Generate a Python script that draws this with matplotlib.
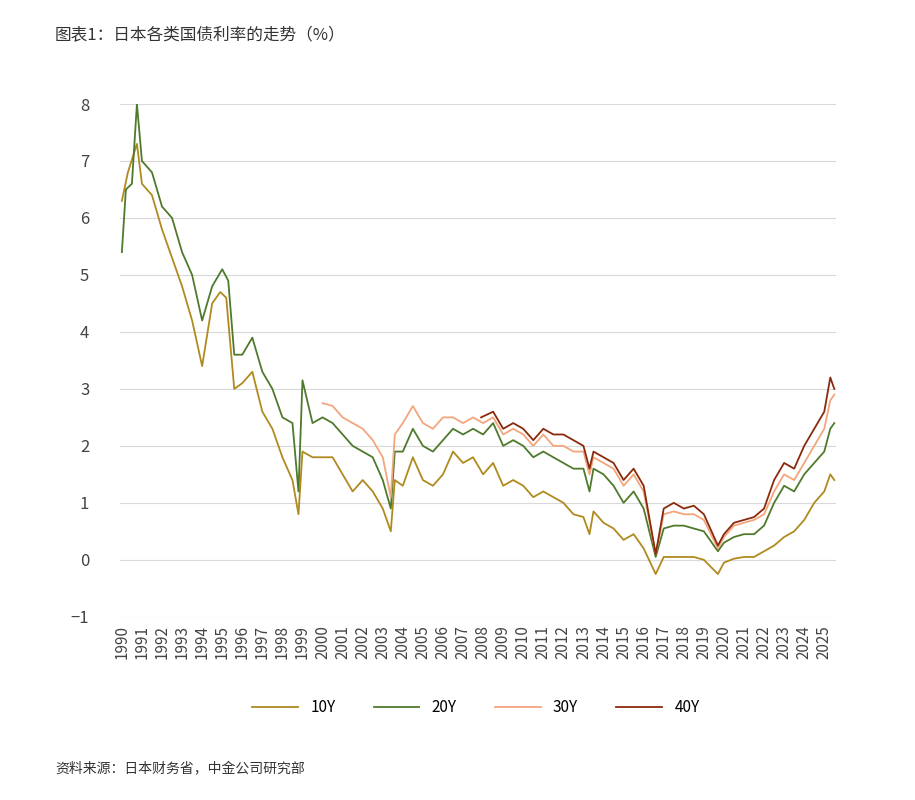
import numpy as np
import matplotlib.pyplot as plt

plt.rcParams['font.family'] = ['Noto Sans CJK SC', 'DejaVu Sans']

# 各期限收益率（%），按年份读取的近似值
t10 = [1990.0, 1990.3, 1990.75, 1991.0, 1991.5, 1992.0, 1992.5, 1993.0, 1993.5, 1994.0, 1994.5, 1994.9,
       1995.2, 1995.6, 1996.0, 1996.5, 1997.0, 1997.5, 1998.0, 1998.5, 1998.8, 1999.0, 1999.5, 2000.0,
       2000.5, 2001.0, 2001.5, 2002.0, 2002.5, 2003.0, 2003.4, 2003.6, 2004.0, 2004.5, 2005.0, 2005.5,
       2006.0, 2006.5, 2007.0, 2007.5, 2008.0, 2008.5, 2009.0, 2009.5, 2010.0, 2010.5, 2011.0, 2011.5,
       2012.0, 2012.5, 2013.0, 2013.3, 2013.5, 2014.0, 2014.5, 2015.0, 2015.5, 2016.0, 2016.6, 2017.0,
       2017.5, 2018.0, 2018.5, 2019.0, 2019.7, 2020.0, 2020.5, 2021.0, 2021.5, 2022.0, 2022.5, 2023.0,
       2023.5, 2024.0, 2024.5, 2025.0, 2025.3, 2025.5]
y10 = [6.3, 6.8, 7.3, 6.6, 6.4, 5.8, 5.3, 4.8, 4.2, 3.4, 4.5, 4.7,
       4.6, 3.0, 3.1, 3.3, 2.6, 2.3, 1.8, 1.4, 0.8, 1.9, 1.8, 1.8,
       1.8, 1.5, 1.2, 1.4, 1.2, 0.9, 0.5, 1.4, 1.3, 1.8, 1.4, 1.3,
       1.5, 1.9, 1.7, 1.8, 1.5, 1.7, 1.3, 1.4, 1.3, 1.1, 1.2, 1.1,
       1.0, 0.8, 0.75, 0.45, 0.85, 0.65, 0.55, 0.35, 0.45, 0.2, -0.25, 0.05,
       0.05, 0.05, 0.05, 0.0, -0.25, -0.05, 0.02, 0.05, 0.05, 0.15, 0.25, 0.4,
       0.5, 0.7, 1.0, 1.2, 1.5, 1.4]

t20 = [1990.0, 1990.2, 1990.5, 1990.75, 1991.0, 1991.5, 1992.0, 1992.5, 1993.0, 1993.5, 1994.0, 1994.5,
       1995.0, 1995.3, 1995.6, 1996.0, 1996.5, 1997.0, 1997.5, 1998.0, 1998.5, 1998.8, 1999.0, 1999.5,
       2000.0, 2000.5, 2001.0, 2001.5, 2002.0, 2002.5, 2003.0, 2003.4, 2003.6, 2004.0, 2004.5, 2005.0,
       2005.5, 2006.0, 2006.5, 2007.0, 2007.5, 2008.0, 2008.5, 2009.0, 2009.5, 2010.0, 2010.5, 2011.0,
       2011.5, 2012.0, 2012.5, 2013.0, 2013.3, 2013.5, 2014.0, 2014.5, 2015.0, 2015.5, 2016.0, 2016.6,
       2017.0, 2017.5, 2018.0, 2018.5, 2019.0, 2019.7, 2020.0, 2020.5, 2021.0, 2021.5, 2022.0, 2022.5,
       2023.0, 2023.5, 2024.0, 2024.5, 2025.0, 2025.3, 2025.5]
y20 = [5.4, 6.5, 6.6, 8.0, 7.0, 6.8, 6.2, 6.0, 5.4, 5.0, 4.2, 4.8,
       5.1, 4.9, 3.6, 3.6, 3.9, 3.3, 3.0, 2.5, 2.4, 1.2, 3.15, 2.4,
       2.5, 2.4, 2.2, 2.0, 1.9, 1.8, 1.4, 0.9, 1.9, 1.9, 2.3, 2.0,
       1.9, 2.1, 2.3, 2.2, 2.3, 2.2, 2.4, 2.0, 2.1, 2.0, 1.8, 1.9,
       1.8, 1.7, 1.6, 1.6, 1.2, 1.6, 1.5, 1.3, 1.0, 1.2, 0.9, 0.05,
       0.55, 0.6, 0.6, 0.55, 0.5, 0.15, 0.3, 0.4, 0.45, 0.45, 0.6, 1.0,
       1.3, 1.2, 1.5, 1.7, 1.9, 2.3, 2.4]

t30 = [2000.0, 2000.5, 2001.0, 2001.5, 2002.0, 2002.5, 2003.0, 2003.4, 2003.6, 2004.0, 2004.5, 2005.0,
       2005.5, 2006.0, 2006.5, 2007.0, 2007.5, 2008.0, 2008.5, 2009.0, 2009.5, 2010.0, 2010.5, 2011.0,
       2011.5, 2012.0, 2012.5, 2013.0, 2013.3, 2013.5, 2014.0, 2014.5, 2015.0, 2015.5, 2016.0, 2016.6,
       2017.0, 2017.5, 2018.0, 2018.5, 2019.0, 2019.7, 2020.0, 2020.5, 2021.0, 2021.5, 2022.0, 2022.5,
       2023.0, 2023.5, 2024.0, 2024.5, 2025.0, 2025.3, 2025.5]
y30 = [2.75, 2.7, 2.5, 2.4, 2.3, 2.1, 1.8, 1.1, 2.2, 2.4, 2.7, 2.4,
       2.3, 2.5, 2.5, 2.4, 2.5, 2.4, 2.5, 2.2, 2.3, 2.2, 2.0, 2.2,
       2.0, 2.0, 1.9, 1.9, 1.5, 1.8, 1.7, 1.6, 1.3, 1.5, 1.2, 0.1,
       0.8, 0.85, 0.8, 0.8, 0.7, 0.2, 0.4, 0.6, 0.65, 0.7, 0.8, 1.2,
       1.5, 1.4, 1.7, 2.0, 2.3, 2.8, 2.9]

t40 = [2007.9, 2008.5, 2009.0, 2009.5, 2010.0, 2010.5, 2011.0, 2011.5, 2012.0, 2012.5, 2013.0, 2013.3,
       2013.5, 2014.0, 2014.5, 2015.0, 2015.5, 2016.0, 2016.6, 2017.0, 2017.5, 2018.0, 2018.5, 2019.0,
       2019.7, 2020.0, 2020.5, 2021.0, 2021.5, 2022.0, 2022.5, 2023.0, 2023.5, 2024.0, 2024.5, 2025.0,
       2025.3, 2025.5]
y40 = [2.5, 2.6, 2.3, 2.4, 2.3, 2.1, 2.3, 2.2, 2.2, 2.1, 2.0, 1.6,
       1.9, 1.8, 1.7, 1.4, 1.6, 1.3, 0.1, 0.9, 1.0, 0.9, 0.95, 0.8,
       0.25, 0.45, 0.65, 0.7, 0.75, 0.9, 1.4, 1.7, 1.6, 2.0, 2.3, 2.6,
       3.2, 3.0]

years = list(range(1990, 2026))

fig = plt.figure(figsize=(9.15, 8), dpi=100)
ax = fig.add_axes([0.131, 0.229, 0.783, 0.641])

ax.plot(t10, y10, color='#B08A1E', lw=1.3, label='10Y')
ax.plot(t20, y20, color='#4F7A2C', lw=1.3, label='20Y')
ax.plot(t30, y30, color='#F3A57C', lw=1.3, label='30Y')
ax.plot(t40, y40, color='#8A2A0C', lw=1.3, label='40Y')

ax.set_ylim(-1, 8)
ax.set_yticks(range(-1, 9))
ax.set_xlim(1989.9, 2025.6)
ax.set_xticks(years)
ax.set_xticklabels([str(y) for y in years], rotation=90, fontsize=11, color='#444444')
ax.tick_params(axis='y', labelsize=12, colors='#444444', length=0, pad=22)
ax.tick_params(axis='x', length=0, pad=6)
ax.grid(axis='y', color='#d9d9d9', lw=0.8)
ax.set_axisbelow(True)
for s in ax.spines.values():
    s.set_visible(False)

fig.legend(loc='center', bbox_to_anchor=(0.52, 0.115), ncol=4, frameon=False,
           fontsize=11, handlelength=3, columnspacing=2.5)

fig.text(0.06, 0.955, '图表1：日本各类国债利率的走势（%）', fontsize=12, color='#333333', va='center')
fig.text(0.06, 0.038, '资料来源：日本财务省，中金公司研究部', fontsize=10, color='#333333', va='center')

fig.savefig('out.png', dpi=100)
